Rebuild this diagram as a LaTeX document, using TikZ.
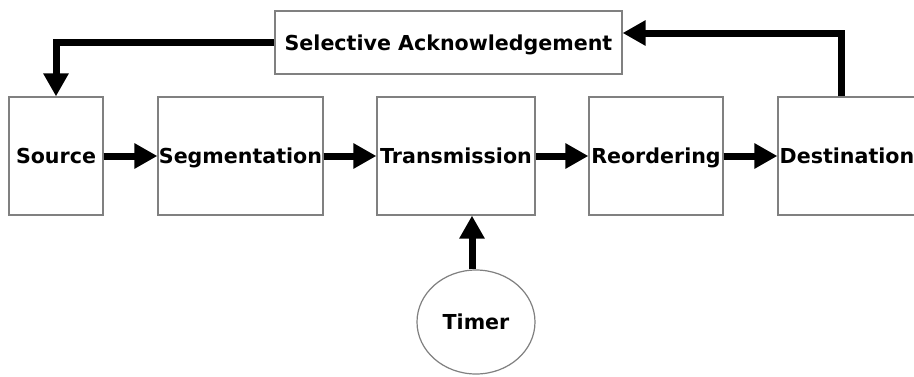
\documentclass[tikz,border=0pt]{standalone}
\usepackage{fontspec}
\setmainfont{DejaVu Sans}
\usetikzlibrary{arrows.meta,shapes.geometric}
\begin{document}
\begin{tikzpicture}[x=1pt,y=-1pt,
  box/.style={draw=black!50,line width=1.2pt,fill=white,rectangle,inner sep=0pt,
    text height=15pt,text depth=0pt,
    minimum height=118pt,font=\fontsize{20.6}{24}\selectfont\bfseries},
  arr/.style={line width=7pt,-{Triangle[width=24pt,length=23pt]}}]
\useasboundingbox (0,0) rectangle (914,376);
\clip (0,0) rectangle (914,376);
\fill[white] (0,0) rectangle (914,376);
\node[box,minimum width=94pt] (src) at (56,156) {Source};
\node[box,minimum width=165pt] (seg) at (240.5,156) {Segmentation};
\node[box,minimum width=158pt] (tra) at (456,156) {Transmission};
\node[box,minimum width=134pt] (reo) at (656,156) {Reordering};
\node[box,minimum width=138pt] (dst) at (847,156) {Destination};
\node[box,minimum width=347pt,minimum height=63pt] (ack) at (448.5,42.5) {Selective Acknowledgement};
\node[box,ellipse,minimum width=118pt,minimum height=104pt] (tim) at (476,322) {Timer};
\draw[arr] (src.east) -- (seg.west);
\draw[arr] (seg.east) -- (tra.west);
\draw[arr] (tra.east) -- (reo.west);
\draw[arr] (reo.east) -- (dst.west);
\draw[arr] (ack.west) -| (src.north);
\draw[arr] ([xshift=-6pt]dst.north) |- ([yshift=9.5pt]ack.east);
\draw[arr] ([xshift=-4pt]tim.north) -- ([xshift=-4pt]tim.north |- tra.south);
\end{tikzpicture}
\end{document}
